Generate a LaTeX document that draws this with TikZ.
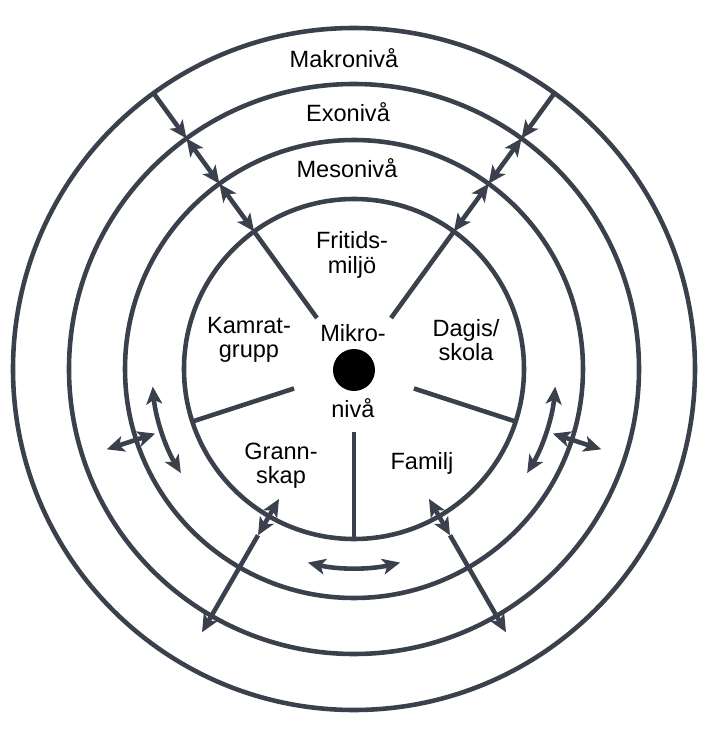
\documentclass[tikz,border=0pt]{standalone}
\usepackage{fontspec}
\setmainfont{Liberation Sans}
\usetikzlibrary{arrows.meta}
\definecolor{ringgray}{RGB}{58,64,76}
\tikzset{
  ring/.style={line width=2.6pt,ringgray},
  lbl/.style={align=center,inner sep=0pt,font=\fontsize{13.4}{13.8}\selectfont}
}
\begin{document}
\begin{tikzpicture}[>={Stealth[length=10pt,width=9pt,inset=2.5pt]},line join=round,x=0.02cm,y=0.02cm]%1 unit = 1px
			\useasboundingbox (-354,-369) rectangle (350,369);
			%========================
			% the four levels
			\foreach \r in {341,285,229,170}
			  \draw[ring] (0,0) circle (\r);
			\fill (0,-1) circle (21);
			% spokes of the micro level
			\foreach \a in {54,126,198,270,342}
			  \draw[ring] (\a:63) -- (\a:170);
			% up to the macro level
			\foreach \a in {54,126}{
			  \draw[ring,->] (\a:341) -- (\a:285);
			  \draw[ring,<->] (\a:285) -- (\a:229);
			  \draw[ring,<->] (\a:229) -- (\a:170);
			}
			% down to the exo level
			\foreach \a in {240,300}{
			  \draw[ring,<->] (\a:150) -- (\a:192);
			  \draw[ring,->] (\a:192) -- (\a:304);
			}
			\foreach \a in {198,342}
			  \draw[ring,<->] (\a:209) -- (\a:260);
			% arcs in the meso level
			\draw[ring,<->] (185:202) arc[start angle=185,end angle=211,radius=202];
			\draw[ring,<->] (-5:202) arc[start angle=-5,end angle=-31,radius=202];
			\draw[ring,<->] (256.6:199) arc[start angle=256.6,end angle=283.4,radius=199];
			%========================
			\node[lbl] (makro) at (-10,311) {Makronivå};
			\node[lbl] (exo) at (-6,257) {Exonivå};
			\node[lbl] (meso) at (-7,201) {Mesonivå};
			\node[lbl] (fritid) at (-2,114) {Fritids-\\miljö};
			\node[lbl] (kamrat) at (-105,29) {Kamrat-\\grupp};
			\node[lbl] (mikro) at (-1,36) {Mikro-};
			\node[lbl] (niva) at (-1,-39) {nivå};
			\node[lbl] (dagis) at (112,29) {Dagis/\\skola};
			\node[lbl] (grann) at (-73,-97) {Grann-\\skap};
			\node[lbl] (familj) at (68,-94) {Familj};
			%========================
		\end{tikzpicture}
\end{document}
